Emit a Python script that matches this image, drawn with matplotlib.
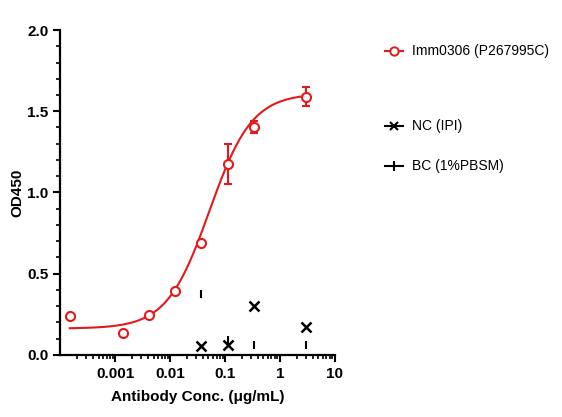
import numpy as np
import matplotlib
matplotlib.use("Agg")
import matplotlib.pyplot as plt
from matplotlib.lines import Line2D
from matplotlib.ticker import FixedLocator, LogLocator, NullFormatter, MultipleLocator, FormatStrFormatter

plt.rcParams["font.family"] = ["Liberation Sans", "DejaVu Sans"]

# === DATOS ===
conc = [3, 1 / 3, 1 / 9, 1 / 27, 1 / 81, 1 / 243, 1 / 729, 3 / 3 ** 9]
imm_od = [1.59, 1.405, 1.175, 0.687, 0.394, 0.246, 0.133, 0.242]
imm_err = [0.057, 0.037, 0.125, 0.0, 0.0, 0.0, 0.0, 0.0]

ctrl_conc = [3, 1 / 3, 1 / 9, 1 / 27]
nc_od = [0.174, 0.30, 0.062, 0.057]
bc_od = [0.062, 0.062, 0.09, 0.375]

# parametros del ajuste 4PL
fit_bottom, fit_top, fit_ec50, fit_hill = 0.162, 1.61, 0.052, 1.12

red = "#e31a1c"

fig = plt.figure(figsize=(5.62, 4.17), dpi=100)
ax = fig.add_axes([0.107, 0.149, 0.489, 0.779])

xs = np.logspace(np.log10(1.5e-4), np.log10(3), 200)
ys = fit_bottom + (fit_top - fit_bottom) / (1 + (fit_ec50 / xs) ** fit_hill)
ax.plot(xs, ys, color=red, lw=1.5, zorder=2)

ax.errorbar(conc, imm_od, yerr=imm_err, fmt="o", mfc="white", mec=red,
            ecolor=red, ms=6.5, mew=1.5, elinewidth=1.5, capsize=3, capthick=1.5, zorder=3)
ax.plot(ctrl_conc, nc_od, "x", color="black", ms=6.5, mew=1.8, zorder=3)
ax.plot(ctrl_conc, bc_od, "|", color="black", ms=6, mew=1.5, zorder=3)

ax.set_xscale("log")
ax.set_xlim(1e-4, 10)
ax.set_ylim(0, 2.0)
ax.xaxis.set_major_locator(FixedLocator([1e-3, 1e-2, 1e-1, 1, 10]))
ax.set_xticklabels(["0.001", "0.01", "0.1", "1", "10"])
ax.xaxis.set_minor_locator(LogLocator(base=10, subs=np.arange(2, 10)))
ax.xaxis.set_minor_formatter(NullFormatter())
ax.yaxis.set_major_locator(FixedLocator([0, 0.5, 1.0, 1.5, 2.0]))
ax.yaxis.set_minor_locator(MultipleLocator(0.1))
ax.yaxis.set_major_formatter(FormatStrFormatter("%.1f"))

for s in ["top", "right"]:
    ax.spines[s].set_visible(False)
for s in ["left", "bottom"]:
    ax.spines[s].set_linewidth(1.6)
ax.tick_params(which="major", direction="out", length=5, width=1.5, labelsize=11)
ax.tick_params(which="minor", direction="out", length=3, width=1.2)
for lab in ax.get_xticklabels() + ax.get_yticklabels():
    lab.set_fontweight("bold")

ax.set_xlabel("Antibody Conc. (μg/mL)", fontsize=11, fontweight="bold", labelpad=7)
ax.set_ylabel("OD450", fontsize=11, fontweight="bold", labelpad=2)

# === LEYENDA MANUAL ===
leg_items = [
    ("Imm0306 (P267995C)", dict(color=red, marker="o", mfc="white", mec=red, ms=6, mew=1.4), 51),
    ("NC (IPI)", dict(color="black", marker="x", ms=6, mew=1.5), 126),
    ("BC (1%PBSM)", dict(color="black", marker="|", ms=7, mew=1.5), 166),
]
for texto, estilo, ypix in leg_items:
    yf = 1 - ypix / 417
    x0, x1 = 385 / 562, 403 / 562
    fig.add_artist(Line2D([x0, (x0 + x1) / 2, x1], [yf, yf, yf], lw=1.5, markevery=[1], **estilo))
    fig.text(412 / 562, yf, texto, fontsize=10, va="center", ha="left")

fig.savefig("out.png", dpi=100)
